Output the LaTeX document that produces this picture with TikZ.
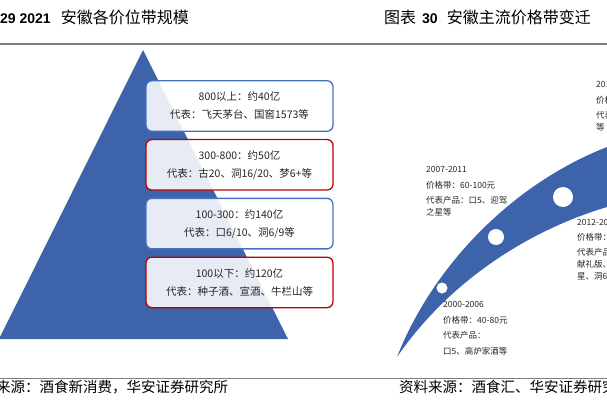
\documentclass[tikz,border=0pt]{standalone}
\usepackage{fontspec}
\newfontfamily\cjk{Noto Sans CJK SC}
\newfontfamily\arial{Liberation Sans}
\usetikzlibrary{positioning}
\definecolor{azul}{HTML}{3D64AB}
\definecolor{azulborda}{HTML}{4472C4}
\definecolor{vermelho}{HTML}{C00000}
\definecolor{cinza}{HTML}{7F7F7F}
\definecolor{texto}{HTML}{262626}

\begin{document}
\begin{tikzpicture}[x=1pt,y=-1pt,
  node distance=7pt,
  faixa/.style={draw=azulborda,line width=1.3pt,rounded corners=6pt,fill=white,
               fill opacity=0.88,text opacity=1,text=texto,minimum width=187pt,
               minimum height=50.5pt,align=center,inner sep=0pt,
               font=\cjk\fontsize{10.5}{18}\selectfont},
  faixavermelha/.style={faixa,draw=vermelho},
  periodo/.style={anchor=base west,inner sep=0pt,align=left,text=texto,
                  font=\cjk\fontsize{8.5}{12}\selectfont},
  titulo/.style={anchor=west,inner sep=0pt,font=\cjk\fontsize{16}{16}\selectfont},
  fonte/.style={anchor=west,inner sep=0pt,font=\cjk\fontsize{14.5}{15}\selectfont},
  regra/.style={cinza,line width=1.2pt}
]
  \useasboundingbox (0,0) rectangle (607,417);
  \clip (0,0) rectangle (607,417);

  % titulos e reguas
  \node[titulo] (tit1) at (0,17) {{\arial\bfseries\fontsize{14}{14}\selectfont 29 2021}\hspace*{10pt}安徽各价位带规模};
  \node[titulo] (tit2) at (384,17) {图表\hspace*{6pt}{\arial\bfseries\fontsize{14}{14}\selectfont 30}\hspace*{9pt}安徽主流价格带变迁};
  \draw[regra] (0,44) -- (607,44);
  \draw[regra] (0,378.5) -- (607,378.5);
  \node[fonte] (fonte1) at (-4,387) {来源：酒食新消费，华安证券研究所};
  \node[fonte] (fonte2) at (399,387) {资料来源：酒食汇、华安证券研究所};

  % piramide
  \fill[azul] (-1,339) -- (143,50) -- (288,339) -- cycle;
  \node[faixa] (faixa1) at (239.5,106) {800以上：约40亿\\代表：飞天茅台、国窖1573等};
  \node[faixavermelha,below=of faixa1] (faixa2) {300-800：约50亿\\代表：古20、洞16/20、梦6+等};
  \node[faixa,below=of faixa2] (faixa3) {100-300：约140亿\\代表：口6/10、洞6/9等};
  \node[faixavermelha,below=of faixa3] (faixa4) {100以下：约120亿\\代表：种子酒、宣酒、牛栏山等};

  % arco das faixas de preco
  \fill[azul] (397,357) .. controls (432,268) and (510,185) .. (607,147)
    -- (607,207) .. controls (530,230) and (450,280) .. (397,357) -- cycle;
  \fill[white] (563,197) circle[radius=10pt];
  \fill[white] (496,237) circle[radius=8pt];
  \fill[white] (442,288) circle[radius=5.5pt];

  % rotulos (ancorados na linha de base da ultima linha)
  \node[periodo] (p2000) at (443,354) {2000-2006\\[4pt]价格带：40-80元\\[3pt]代表产品：\\[4pt]口5、高炉家酒等};
  \node[periodo] (p2007) at (426,215) {2007-2011\\[4pt]价格带：60-100元\\[3pt]代表产品：口5、迎驾\\之星等};
  \node[periodo] (p2012) at (577,279) {2012-2017\\[3pt]价格带：100-300元\\[3pt]代表产品：古井\\献礼版、迎驾之\\星、洞6等};
  \node[periodo] (p2018) at (596,130) {2018-2021\\[4pt]价格带：300-800元\\[3pt]代表产品：古20\\等};
\end{tikzpicture}
\end{document}
